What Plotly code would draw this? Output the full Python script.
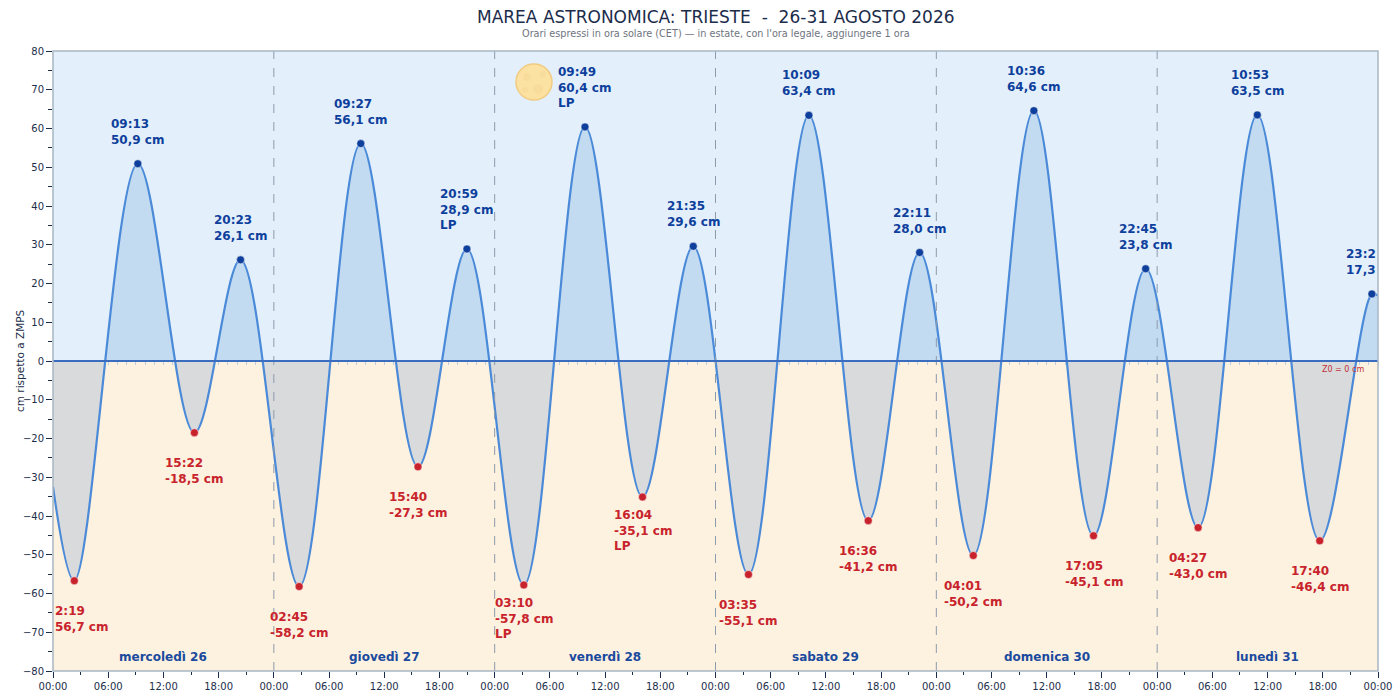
"""Marea astronomica Trieste 26-31 agosto 2026 — Plotly recreation."""
import pandas as pd
import plotly.graph_objects as go

# ─── data ───
start_time, start_level = "2026-08-26 00:00", -32.4
end_time, end_level = "2026-09-01 00:00", 16.9

high_times = ["2026-08-26 09:13", "2026-08-26 20:23", "2026-08-27 09:27", "2026-08-27 20:59",
              "2026-08-28 09:49", "2026-08-28 21:35", "2026-08-29 10:09", "2026-08-29 22:11",
              "2026-08-30 10:36", "2026-08-30 22:45", "2026-08-31 10:53", "2026-08-31 23:20"]
high_levels = [50.9, 26.1, 56.1, 28.9, 60.4, 29.6, 63.4, 28.0, 64.6, 23.8, 63.5, 17.3]
high_lp = [False, False, False, True, True, False, False, False, False, False, False, False]

low_times = ["2026-08-26 02:19", "2026-08-26 15:22", "2026-08-27 02:45", "2026-08-27 15:40",
             "2026-08-28 03:10", "2026-08-28 16:04", "2026-08-29 03:35", "2026-08-29 16:36",
             "2026-08-30 04:01", "2026-08-30 17:05", "2026-08-31 04:27", "2026-08-31 17:40"]
low_levels = [-56.7, -18.5, -58.2, -27.3, -57.8, -35.1, -55.1, -41.2, -50.2, -45.1, -43.0, -46.4]
low_lp = [False, False, False, False, True, True, False, False, False, False, False, False]

day_names = ["mercoledì 26", "giovedì 27", "venerdì 28", "sabato 29", "domenica 30", "lunedì 31"]
day_noons = ["2026-08-26 12:00", "2026-08-27 12:00", "2026-08-28 12:00",
             "2026-08-29 12:00", "2026-08-30 12:00", "2026-08-31 12:00"]
midnights = ["2026-08-27", "2026-08-28", "2026-08-29", "2026-08-30", "2026-08-31"]

# ─── styling ───
FONT = "DejaVu Sans"
BLUE_TXT = "#0e3f9c"
RED_TXT = "#c8232c"
LINE = "#4a8ad8"
FILL_UP = "#c2dbf1"
FILL_DN = "#d9dadb"
BG_UP = "#e3f0fb"
BG_DN = "#fdf1df"
AXIS_TXT = "#1c2e4a"

curve = pd.DataFrame({
    "t": [start_time] + high_times + low_times + [end_time],
    "v": [start_level] + high_levels + low_levels + [end_level],
})
curve["t"] = pd.to_datetime(curve["t"])
curve = curve.sort_values("t")

fig = go.Figure()

# same curve twice: upper half on y (0..80), lower half on y2 (-80..0), each clipped
fig.add_trace(go.Scatter(x=curve["t"], y=curve["v"], yaxis="y", mode="lines",
                         line=dict(color=LINE, width=2.2, shape="spline", smoothing=1),
                         fill="tozeroy", fillcolor=FILL_UP, hoverinfo="skip"))
fig.add_trace(go.Scatter(x=curve["t"], y=curve["v"], yaxis="y2", mode="lines",
                         line=dict(color=LINE, width=2.2, shape="spline", smoothing=1),
                         fill="tozeroy", fillcolor=FILL_DN, hoverinfo="skip"))
fig.add_trace(go.Scatter(x=high_times, y=high_levels, yaxis="y", mode="markers", cliponaxis=False,
                         marker=dict(color=BLUE_TXT, size=8, line=dict(color="white", width=0.5))))
fig.add_trace(go.Scatter(x=low_times, y=low_levels, yaxis="y2", mode="markers", cliponaxis=False,
                         marker=dict(color=RED_TXT, size=8, line=dict(color="white", width=0.5))))
# dummy trace so the hourly tick axis on the zero line gets drawn
fig.add_trace(go.Scatter(x=[start_time], y=[0], xaxis="x2", yaxis="y", mode="markers",
                         marker=dict(opacity=0), hoverinfo="skip"))


def fmt(v):
    return f"{v:.1f}".replace(".", ",")


ann = []
for i, (t, v, lp) in enumerate(zip(high_times, high_levels, high_lp)):
    txt = f"{t[-5:]}<br>{fmt(v)} cm" + ("<br>LP" if lp else "")
    a = dict(x=t, y=v, xref="x", yref="y", text=txt, showarrow=False, align="left",
             xanchor="center", yanchor="bottom", yshift=15,
             font=dict(family=FONT, size=12, color=BLUE_TXT, weight="bold"))
    if i == len(high_times) - 1:  # cut by the right edge of the plot
        a.update(x=1, xref="paper", xanchor="right", text=f"{t[-5:-1]}<br>{fmt(v)}")
    ann.append(a)

for i, (t, v, lp) in enumerate(zip(low_times, low_levels, low_lp)):
    txt = f"{t[-5:]}<br>{fmt(v)} cm" + ("<br>LP" if lp else "")
    a = dict(x=t, y=v, xref="x", yref="y2", text=txt, showarrow=False, align="left",
             xanchor="center", yanchor="top", yshift=-9 if lp else -21,
             font=dict(family=FONT, size=12, color=RED_TXT, weight="bold"))
    if i == 0:  # cut by the left edge of the plot
        a.update(x=0, xref="paper", xanchor="left", text=f"{t[-4:]}<br>{fmt(-v)} cm")
    ann.append(a)

for name, t in zip(day_names, day_noons):
    ann.append(dict(x=t, y=-76.5, xref="x", yref="y2", text=name, showarrow=False,
                    font=dict(family=FONT, size=12, color="#1a4a9e", weight="bold")))

ann.append(dict(x=1, y=0.5, xref="paper", yref="paper", text="Z0 = 0 cm", showarrow=False,
                xanchor="right", yanchor="top", xshift=-12, yshift=-2,
                font=dict(family=FONT, size=8, color="#c0303a")))
ann.append(dict(x=0, y=0.5, xref="paper", yref="paper", text="cm rispetto a ZMPS",
                textangle=-90, showarrow=False, xanchor="center", xshift=-33,
                font=dict(family=FONT, size=10.5, color=AXIS_TXT)))
ann.append(dict(x=0.5, y=1, xref="paper", yref="paper", yshift=34, yanchor="middle",
                text="MAREA ASTRONOMICA: TRIESTE \u00a0-\u00a0 26-31 AGOSTO 2026", showarrow=False,
                font=dict(family=FONT, size=17, color="#1b2c4b")))
ann.append(dict(x=0.5, y=1, xref="paper", yref="paper", yshift=18, yanchor="middle",
                text="Orari espressi in ora solare (CET) — in estate, con l'ora legale, aggiungere 1 ora",
                showarrow=False, font=dict(family=FONT, size=9.7, color="#6e7480")))

shapes = [
    dict(type="rect", xref="paper", yref="y", x0=0, x1=1, y0=0, y1=80,
         fillcolor=BG_UP, line_width=0, layer="below"),
    dict(type="rect", xref="paper", yref="y2", x0=0, x1=1, y0=-80, y1=0,
         fillcolor=BG_DN, line_width=0, layer="below"),
]
for m in midnights:
    shapes.append(dict(type="line", xref="x", yref="paper", x0=m, x1=m, y0=0, y1=1,
                       line=dict(color="#8d9cad", width=1, dash="dash"), layer="above"))
shapes.append(dict(type="line", xref="paper", yref="paper", x0=0, x1=1, y0=0.5, y1=0.5,
                   line=dict(color="#3a6cbf", width=2), layer="above"))
shapes.append(dict(type="rect", xref="paper", yref="paper", x0=0, x1=1, y0=0, y1=1,
                   line=dict(color="#a9b7c4", width=1.5), layer="above"))

# full moon icon beside the LP high of the 28th
lp_t, lp_v = high_times[4], high_levels[4]
shapes.append(dict(type="circle", xref="x", yref="y", xsizemode="pixel", ysizemode="pixel",
                   xanchor=lp_t, yanchor=lp_v, x0=-69, x1=-33, y0=27, y1=63,
                   fillcolor="#fbe2a2", line=dict(color="#f2cb82", width=1.5), layer="above"))
for dx, dy, r in [(-58, 50, 4), (-47, 38, 5), (-42, 53, 3), (-60, 37, 3)]:
    shapes.append(dict(type="circle", xref="x", yref="y", xsizemode="pixel", ysizemode="pixel",
                       xanchor=lp_t, yanchor=lp_v, x0=dx - r, x1=dx + r, y0=dy - r, y1=dy + r,
                       fillcolor="#f5d696", line_width=0, opacity=0.5, layer="above"))

x_range = [start_time, end_time]
fig.update_layout(
    width=1400, height=700,
    margin=dict(l=53, r=22, t=51, b=29, autoexpand=False),
    paper_bgcolor="white", plot_bgcolor="rgba(0,0,0,0)",
    showlegend=False,
    font=dict(family=FONT, color=AXIS_TXT),
    annotations=ann, shapes=shapes,
    xaxis=dict(type="date", range=x_range, anchor="y2", tickformat="%H:%M", automargin=False,
               dtick=6 * 3600000, tick0=start_time, ticks="outside", ticklen=6,
               tickcolor=AXIS_TXT, tickfont=dict(size=10, color=AXIS_TXT),
               minor=dict(dtick=3 * 3600000, ticks="outside", ticklen=3, tickcolor=AXIS_TXT),
               showgrid=False, zeroline=False, showline=False),
    xaxis2=dict(type="date", range=x_range, overlaying="x", anchor="free", position=0.5,
                automargin=False, dtick=3600000, tick0=start_time, ticks="outside", ticklen=3,
                tickcolor="#bccbe0", showticklabels=False, showgrid=False, zeroline=False,
                showline=False),
    yaxis=dict(domain=[0.5, 1], range=[0, 80], anchor="x", tickvals=list(range(0, 81, 10)),
               automargin=False, ticks="outside", ticklen=6, tickcolor=AXIS_TXT,
               tickfont=dict(size=10, color=AXIS_TXT),
               minor=dict(tickvals=list(range(5, 80, 10)), ticks="outside", ticklen=4,
                          tickcolor=AXIS_TXT),
               showgrid=False, zeroline=False, showline=False),
    yaxis2=dict(domain=[0, 0.5], range=[-80, 0], anchor="x", tickvals=list(range(-80, 0, 10)),
                automargin=False, ticks="outside", ticklen=6, tickcolor=AXIS_TXT,
                tickfont=dict(size=10, color=AXIS_TXT),
                minor=dict(tickvals=list(range(-75, 0, 10)), ticks="outside", ticklen=4,
                           tickcolor=AXIS_TXT),
                showgrid=False, zeroline=False, showline=False),
)

fig.write_html("out.html", config={"displayModeBar": False},
               post_script="document.body.style.margin='0';")
print("✓ out.html")
